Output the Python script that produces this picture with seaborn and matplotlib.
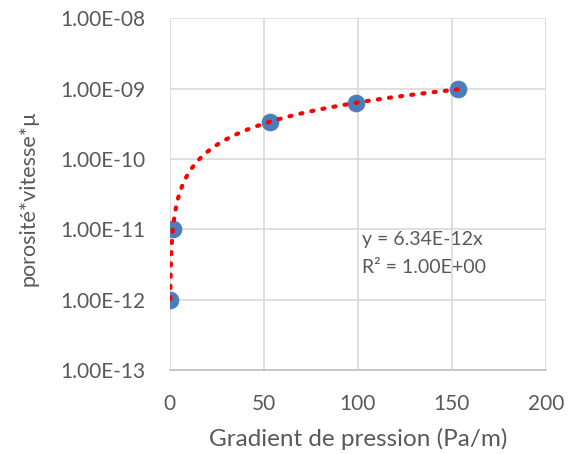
import numpy as np
import pandas as pd
import seaborn as sns
import matplotlib.pyplot as plt

# data
gradient = [0.16, 1.58, 53.0, 99.0, 153.0]
valeur = [1.0e-12, 1.0e-11, 3.36e-10, 6.3e-10, 9.7e-10]
slope = 6.34e-12
eq_label = "y = 6.34E-12x"
r2_label = "R² = 1.00E+00"
y_ticks = [1e-13, 1e-12, 1e-11, 1e-10, 1e-9, 1e-8]
y_tick_labels = ["1.00E-13", "1.00E-12", "1.00E-11", "1.00E-10", "1.00E-09", "1.00E-08"]
x_ticks = [0, 50, 100, 150, 200]

df = pd.DataFrame({"gradient": gradient, "valeur": valeur})

sns.set_style("white")
plt.rcParams['font.family'] = ['Lato', 'DejaVu Sans']
txt = '#595959'

fig = plt.figure(figsize=(5.74, 4.54), dpi=100)
ax = fig.add_axes([0.296, 0.185, 0.655, 0.775])

xs = np.linspace(min(gradient), max(gradient), 400)

sns.scatterplot(data=df, x='gradient', y='valeur', ax=ax, s=150, color='#4a7ebb',
                edgecolor='#4a7ebb', linewidth=0.5, zorder=2)
# trendline over the data range, drawn on top of the markers like Excel
ax.plot(xs, slope * xs, color='red', linestyle=(0, (0.5, 2.2)), linewidth=3,
        dash_capstyle='round', zorder=4)

ax.set_yscale('log')
ax.set_xlim(0, 200)
ax.set_ylim(1e-13, 1e-8)
ax.set_xticks(x_ticks)
ax.set_xticklabels([str(t) for t in x_ticks])
ax.set_yticks(y_ticks)
ax.set_yticklabels(y_tick_labels)
ax.yaxis.set_minor_locator(plt.NullLocator())

ax.grid(True, color='#d9d9d9', linewidth=1.2)
ax.set_axisbelow(True)
for side in ['top', 'right', 'left']:
    ax.spines[side].set_visible(False)
ax.spines['bottom'].set_color('#bfbfbf')
ax.spines['bottom'].set_linewidth(1.2)
ax.tick_params(axis='both', length=0, labelsize=15, colors=txt)
ax.tick_params(axis='x', pad=17)
ax.tick_params(axis='y', pad=18)

ax.set_xlabel('Gradient de pression (Pa/m)', fontsize=17.5, color=txt, labelpad=10)
ax.set_ylabel('porosité*vitesse*µ', fontsize=15.5, color=txt)
ax.yaxis.set_label_coords(-0.35, 0.49)

ax.text(0.51, 0.37, eq_label, transform=ax.transAxes, fontsize=14, color=txt, va='center')
ax.text(0.51, 0.29, r2_label, transform=ax.transAxes, fontsize=14, color=txt, va='center')

fig.savefig('out.png', dpi=100)
